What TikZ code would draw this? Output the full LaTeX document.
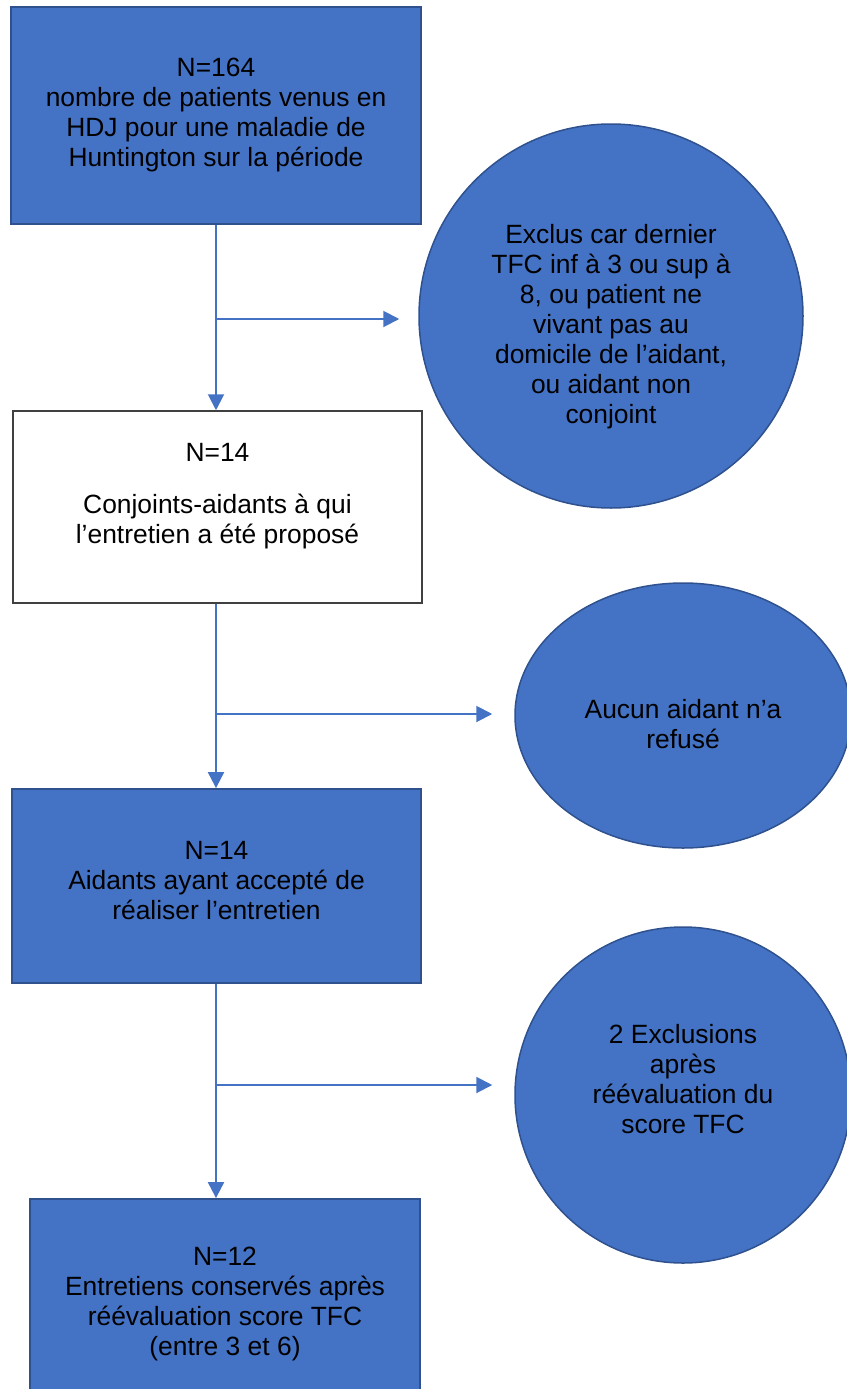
\documentclass[tikz,border=0pt]{standalone}
\usepackage{fontspec}
\setmainfont{Liberation Sans}
\usetikzlibrary{arrows.meta,shapes.geometric}
\definecolor{blu}{HTML}{4472C4}
\definecolor{bdr}{HTML}{2F528F}
\definecolor{gbdr}{HTML}{404040}
\begin{document}
\begin{tikzpicture}[x=1pt,y=-1pt,
  txt/.style={align=center, font=\fontsize{26.4}{30}\selectfont, text=black, inner sep=0pt},
  bluebox/.style={txt, rectangle, draw=bdr, fill=blu, line width=1.8pt},
  whitebox/.style={txt, rectangle, draw=gbdr, fill=white, line width=1.5pt},
  blob/.style={txt, ellipse, draw=bdr, fill=blu, line width=1.5pt},
  arr/.style={draw=blu, line width=2pt, -{Triangle[length=16pt,width=16pt]}}
]
\useasboundingbox (0,0) rectangle (846,1389);

% boxes
\node[bluebox, minimum width=410pt, minimum height=217pt] (b1) at (216,115.5)
  {N=164\\nombre de patients venus en\\HDJ pour une maladie de\\Huntington sur la période};
\node[whitebox, minimum width=409pt, minimum height=192pt] (b2) at (217.5,507)
  {N=14\\[22pt]Conjoints-aidants à qui\\l’entretien a été proposé\rule[-28pt]{0pt}{0pt}};
\node[bluebox, minimum width=409pt, minimum height=194pt] (b3) at (216.5,886)
  {N=14\\Aidants ayant accepté de\\réaliser l’entretien\rule[-12pt]{0pt}{0pt}};
\node[bluebox, minimum width=390pt, minimum height=210pt] (b4) at (225,1304)
  {N=12\\Entretiens conservés après\\réévaluation score TFC\\(entre 3 et 6)};

% round shapes
\node[blob, minimum width=384pt, minimum height=384pt] (c1) at (611,316)
  {\rule{0pt}{40pt}Exclus car dernier\\TFC inf à 3 ou sup à\\8, ou patient ne\\vivant pas au\\domicile de l’aidant,\\ou aidant non\\conjoint};
\node[blob, minimum width=336pt, minimum height=265pt] (e2) at (683,715.5)
  {\rule{0pt}{36pt}Aucun aidant n’a\\refusé};
\node[blob, minimum width=336pt, minimum height=336pt] (c3) at (683,1095)
  {2 Exclusions\\après\\réévaluation du\\score TFC\rule[-32pt]{0pt}{0pt}};

% junctions
\coordinate (j1) at (216,319);
\coordinate (j2) at (216,714);
\coordinate (j3) at (216,1085);

% connectors
\draw[arr] (b1.south) -- (b1.south |- b2.north);
\draw[arr, shorten >=19pt] (j1) -- (j1 -| c1.west);
\draw[arr] (b2.south -| j2) -- (j2 |- b3.north);
\draw[arr, shorten >=22pt] (j2) -- (j2 -| e2.west);
\draw[arr] (b3.south -| j3) -- (j3 |- b4.north);
\draw[arr, shorten >=22pt] (j3) -- (j3 -| c3.west);
\end{tikzpicture}
\end{document}
